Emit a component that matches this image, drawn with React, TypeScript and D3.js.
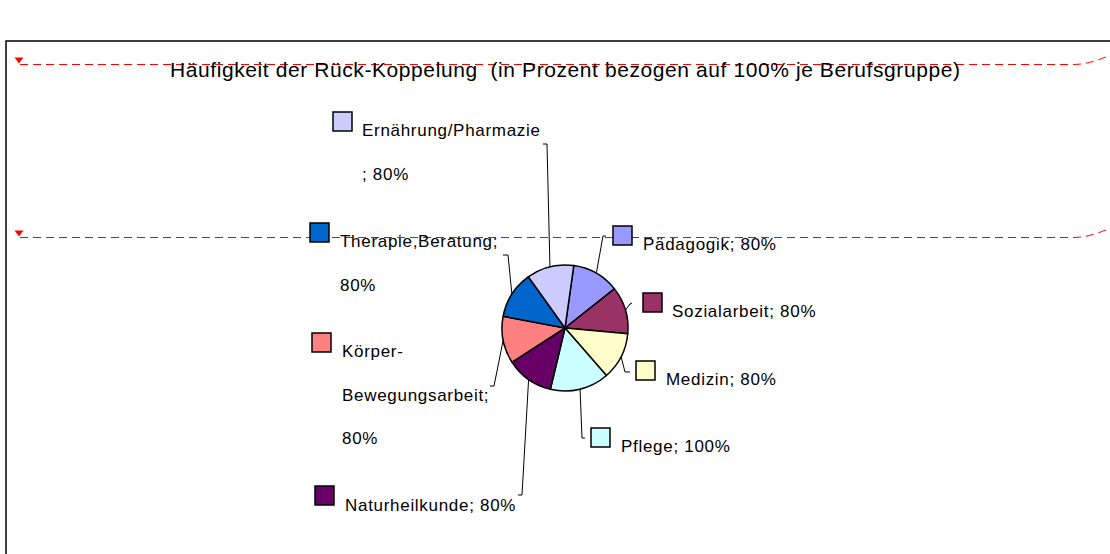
import * as d3 from "d3";
import React, { useEffect, useRef } from "react";

// Rück-Koppelung pie, percentages per Berufsgruppe
const categories = [
  "Pädagogik",
  "Sozialarbeit",
  "Medizin",
  "Pflege",
  "Naturheilkunde",
  "Körper-Bewegungsarbeit",
  "Therapie,Beratung",
  "Ernährung/Pharmazie",
];
const values = [80, 80, 80, 100, 80, 80, 80, 80];
const colors = ["#9999FF", "#993366", "#FFFFCC", "#CCFFFF", "#660066", "#FF8080", "#0066CC", "#CCCCFF"];
const title = "Häufigkeit der Rück-Koppelung  (in Prozent bezogen auf 100% je Berufsgruppe)";

// label layout: square corner, text x, first baseline, line breaks (char index), leader elbow
const labelLayout = [
  { sq: [613, 226], tx: 643, ty: 250, breaks: [], elbow: [[606, 236], [603, 236]] },
  { sq: [643, 293], tx: 672, ty: 317, breaks: [], elbow: [[632, 303], [630, 304]] },
  { sq: [636, 361], tx: 666, ty: 385, breaks: [], elbow: [[630, 372], [625, 372]] },
  { sq: [591, 428], tx: 621, ty: 452, breaks: [], elbow: [[585, 438], [582, 438]] },
  { sq: [315, 486], tx: 345, ty: 511, breaks: [], elbow: [[518, 495], [522, 495]] },
  { sq: [312, 333], tx: 342, ty: 357, breaks: [7, 23], elbow: [[490, 386], [494, 386]] },
  { sq: [310, 223], tx: 340, ty: 247, breaks: [18], elbow: [[503, 255], [508, 255]] },
  { sq: [333, 112], tx: 362, ty: 136, breaks: [19], elbow: [[543, 144], [547, 144]] },
];

const W = 1110;
const H = 554;

const App: React.FC = () => {
  const ref = useRef<SVGSVGElement | null>(null);

  useEffect(() => {
    if (!ref.current) return;
    const svg = d3.select(ref.current);
    svg.selectAll("*").remove();
    const font = "'Liberation Sans', Arial, sans-serif";

    // chart frame
    svg.append("path")
      .attr("d", `M6,${H} L6,41 L${W},41`)
      .attr("fill", "none")
      .attr("stroke", "#000")
      .attr("stroke-width", 1.5);

    // red dashed guide lines
    [[64.5, 55], [237.5, 228]].forEach(([y, yEnd]) => {
      svg.append("path")
        .attr("d", `M20,${y} L1073,${y} Q1090,${y} ${W},${yEnd}`)
        .attr("fill", "none")
        .attr("stroke", "#ff0000")
        .attr("stroke-width", 1)
        .attr("stroke-dasharray", "8,5");
      svg.append("path")
        .attr("d", `M14.5,${y - 7} L23.5,${y - 7} L19,${y - 1} Z`)
        .attr("fill", "#ff0000");
    });

    // title
    svg.append("text")
      .attr("x", 170)
      .attr("y", 77)
      .attr("textLength", 790)
      .attr("lengthAdjust", "spacing")
      .style("font-family", font)
      .style("font-size", "21px")
      .style("white-space", "pre")
      .attr("fill", "#000")
      .text(title);

    // pie
    const cx = 565, cy = 328, r = 63;
    const startOffset = (8 * Math.PI) / 180;
    const pie = d3.pie<number>()
      .sort(null)
      .value((d) => d)
      .startAngle(startOffset)
      .endAngle(startOffset + 2 * Math.PI);
    const arcs = pie(values);
    const arc = d3.arc<d3.PieArcDatum<number>>().innerRadius(0).outerRadius(r);
    const edge = d3.arc<d3.PieArcDatum<number>>().innerRadius(r).outerRadius(r);

    const g = svg.append("g").attr("transform", `translate(${cx},${cy})`);
    g.selectAll("path.slice")
      .data(arcs)
      .enter()
      .append("path")
      .attr("class", "slice")
      .attr("d", arc)
      .attr("fill", (_d, i) => colors[i])
      .attr("stroke", "#000")
      .attr("stroke-width", 1.5)
      .attr("stroke-linejoin", "round");

    // leader lines + labels
    arcs.forEach((a, i) => {
      const lay = labelLayout[i];
      const [px, py] = edge.centroid(a);
      const [e0, e1] = lay.elbow;
      svg.append("path")
        .attr("d", `M${e0[0]},${e0[1]} L${e1[0]},${e1[1]} L${cx + px},${cy + py}`)
        .attr("fill", "none")
        .attr("stroke", "#000")
        .attr("stroke-width", 1);

      svg.append("rect")
        .attr("x", lay.sq[0])
        .attr("y", lay.sq[1])
        .attr("width", 19)
        .attr("height", 19)
        .attr("fill", colors[i])
        .attr("stroke", "#000")
        .attr("stroke-width", 1.5);

      const label = `${categories[i]}; ${values[i]}%`;
      const cuts = [0, ...lay.breaks, label.length];
      const lines = d3.range(cuts.length - 1).map((k) => label.slice(cuts[k], cuts[k + 1]).trim());
      const t = svg.append("text")
        .attr("x", lay.tx)
        .attr("y", lay.ty)
        .style("font-family", font)
        .style("font-size", "17px")
        .style("letter-spacing", "0.7px")
        .attr("fill", "#000");
      lines.forEach((ln, k) => {
        t.append("tspan")
          .attr("x", lay.tx)
          .attr("dy", k === 0 ? 0 : 43.5)
          .text(ln);
      });
    });
  }, []);

  return (
    <div style={{ position: "absolute", left: 0, top: 0 }}>
      <svg ref={ref} width={W} height={H} style={{ display: "block", background: "#fff" }}></svg>
    </div>
  );
};

export default App;
